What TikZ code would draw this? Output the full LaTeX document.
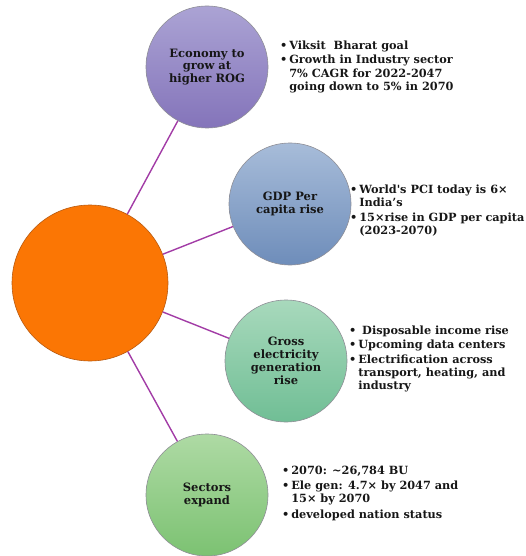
\documentclass[tikz,border=0pt]{standalone}
\usepackage{fontspec}
\setmainfont{DejaVu Serif}
\usetikzlibrary{positioning}
\definecolor{rgink}      {HTML}{161616}
\definecolor{rgplum}     {HTML}{A23CA6}
\definecolor{rgrim}      {HTML}{8E8E96}
\definecolor{rgorange}   {HTML}{FB7604}
\definecolor{rgorangerim}{HTML}{B85A10}
\definecolor{rgviotop}   {HTML}{ABA3D4}
\definecolor{rgviobot}   {HTML}{8474BA}
\definecolor{rgbluetop}  {HTML}{A7BCD9}
\definecolor{rgbluebot}  {HTML}{6E8DBA}
\definecolor{rgseatop}   {HTML}{A8D9BC}
\definecolor{rgseabot}   {HTML}{70BE95}
\definecolor{rgleaftop}  {HTML}{AEDAA4}
\definecolor{rgleafbot}  {HTML}{7CC272}
\newcommand{\rgbul}{\textbullet\,}
\newcommand{\rgind}{\phantom{\textbullet\,}}
\tikzset{
  rgcircle/.style={circle, draw=rgrim, line width=0.6pt, inner sep=0pt,
                   minimum size=122pt, align=center, text=rgink,
                   font=\bfseries\fontsize{11.5}{12.8}\selectfont},
  rghub/.style={rgcircle, minimum size=156pt, fill=rgorange, draw=rgorangerim},
  rgpoints/.style={anchor=north west, inner sep=0pt, align=left, text=rgink,
                   font=\bfseries\fontsize{11.3}{13.2}\selectfont},
  rglink/.style={draw=rgplum, line width=1.4pt},
}
\begin{document}
\begin{tikzpicture}[x=1pt,y=1pt]
  \useasboundingbox (0,0) rectangle (526,-556);
  % hub and its four spokes
  \node[rghub] (hub) at (90,-283) {};
  \node[rgcircle, top color=rgviotop, bottom color=rgviobot] (rog) at (207,-67)
       {Economy to\\grow at\\higher ROG};
  \node[rgcircle, top color=rgbluetop, bottom color=rgbluebot] (gdp) at (290,-204)
       {GDP Per\\capita rise};
  \node[rgcircle, top color=rgseatop, bottom color=rgseabot] (elec) at (286,-361)
       {Gross\\electricity\\generation\\rise};
  \node[rgcircle, top color=rgleaftop, bottom color=rgleafbot] (sect) at (207,-495)
       {Sectors\\expand};
  \draw[rglink] (hub) -- (rog);
  \draw[rglink] (hub) -- (gdp);
  \draw[rglink] (hub) -- (elec);
  \draw[rglink] (hub) -- (sect);

  % bullet text
  \node[rgpoints] (rogpts) at (280,-41)
       {\rgbul Viksit\ \ Bharat goal\\[1pt]
        \rgbul Growth in Industry sector\\
        \rgind 7\% CAGR for 2022-2047\\
        \rgind going down to 5\% in 2070};
  \node[rgpoints] (gdppts) at (350,-185)
       {\rgbul World\textquotesingle s PCI today is 6×\\
        \rgind India’s\\[1pt]
        \rgbul 15×rise in GDP per capita\\
        \rgind (2023-2070)};
  \node[rgpoints] (elecpts) at (349,-326)
       {\rgbul\ Disposable income rise\\[1pt]
        \rgbul Upcoming data centers\\[1pt]
        \rgbul Electrification across\\
        \rgind transport, heating, and\\
        \rgind industry};
  \node[rgpoints] (sectpts) at (282,-466)
       {\rgbul 2070: \textasciitilde26,784 BU\\[2pt]
        \rgbul Ele gen: 4.7× by 2047 and\\
        \rgind 15× by 2070\\[2pt]
        \rgbul developed nation status};
\end{tikzpicture}
\end{document}
